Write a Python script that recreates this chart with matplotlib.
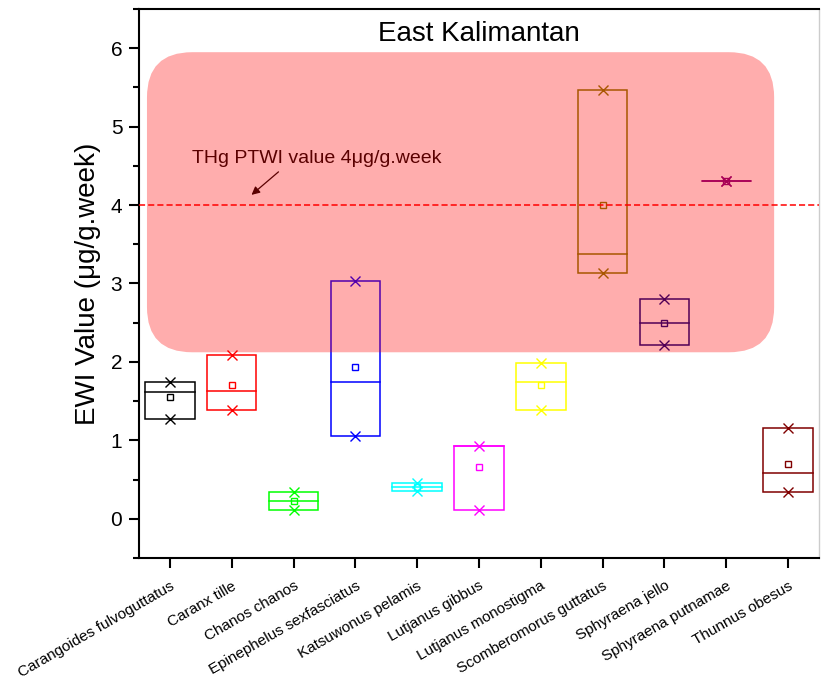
import matplotlib
matplotlib.use('Agg')
import matplotlib.pyplot as plt
from matplotlib.patches import FancyBboxPatch, Rectangle

plt.rcParams['font.family'] = ['Liberation Sans', 'DejaVu Sans']

# Espécies (eixo x)
species = ["Carangoides fulvoguttatus", "Caranx tille", "Chanos chanos",
           "Epinephelus sexfasciatus", "Katsuwonus pelamis", "Lutjanus gibbus",
           "Lutjanus monostigma", "Scomberomorus guttatus", "Sphyraena jello",
           "Sphyraena putnamae", "Thunnus obesus"]

# Valores EWI (µg/g.week)
ewi_min = [1.27, 1.39, 0.11, 1.05, 0.35, 0.11, 1.39, 3.14, 2.21, 4.31, 0.34]
ewi_median = [1.62, 1.63, 0.23, 1.75, 0.41, 0.93, 1.75, 3.38, 2.50, 4.31, 0.58]
ewi_max = [1.75, 2.09, 0.34, 3.03, 0.46, 0.93, 1.98, 5.47, 2.80, 4.31, 1.16]
ewi_mean = [1.55, 1.71, 0.23, 1.94, 0.41, 0.66, 1.70, 4.00, 2.50, 4.31, 0.70]

ptwi = 4.0

# Cores padrão do Origin
colors = ['#000000', '#ff0000', '#00ff00', '#0000ff', '#00ffff', '#ff00ff',
          '#ffff00', '#808000', '#000080', '#800080', '#800000']

fig = plt.figure(figsize=(8.21, 6.80), dpi=100)
ax = fig.add_axes([0.1693, 0.1794, 0.8283, 0.8074])

positions = list(range(1, len(species) + 1))
box_w = 0.8

for x, lo, med, hi, mn, c in zip(positions, ewi_min, ewi_median, ewi_max, ewi_mean, colors):
    ax.add_patch(Rectangle((x - box_w / 2, lo), box_w, hi - lo, fill=False,
                           edgecolor=c, linewidth=1.1, zorder=3))
    ax.plot([x - box_w / 2, x + box_w / 2], [med, med], color=c, lw=1.1, zorder=3)
    ax.plot([x, x], [lo, hi], linestyle='none', marker='x', color=c,
            markersize=7, markeredgewidth=1.0, zorder=4)
    ax.plot([x], [mn], linestyle='none', marker='s', markerfacecolor='none',
            markeredgecolor=c, markersize=5, markeredgewidth=1.0, zorder=4)

# Região de risco (retângulo arredondado semi-transparente)
region = FancyBboxPatch((0.629, 2.123), 10.774 - 0.629, 5.949 - 2.123,
                        boxstyle="round,pad=0,rounding_size=0.73",
                        mutation_aspect=0.788, facecolor='red', alpha=0.32,
                        edgecolor='none', zorder=5)
ax.add_patch(region)

# Linha PTWI
ax.axhline(ptwi, color='#ff0000', linestyle=(0, (4, 2)), linewidth=1.1, zorder=6)
ax.annotate("THg PTWI value 4\u03bcg/g.week", xy=(2.32, 4.13), xytext=(1.35, 4.59),
            fontsize=14, color='#5a0000', va='center', ha='left', zorder=7,
            arrowprops=dict(arrowstyle='-|>', color='#5a0000', lw=0.9,
                            shrinkA=2, shrinkB=0, mutation_scale=12,
                            relpos=(0.37, 0.0)))
ax.text(0.5, 0.955, "East Kalimantan", transform=ax.transAxes, ha='center',
        va='center', fontsize=20, zorder=7)

ax.set_xlim(0.5, 11.5)
ax.set_ylim(-0.5, 6.5)
ax.set_xticks(positions)
ax.set_xticklabels(species, rotation=30, ha='right', rotation_mode='anchor', fontsize=11)
ax.set_yticks(range(0, 7))
ax.set_yticks([v + 0.5 for v in range(-1, 7)], minor=True)
ax.tick_params(axis='y', which='major', labelsize=15, length=7, width=1.5,
               direction='out', pad=5)
ax.tick_params(axis='y', which='minor', length=4, width=1.5, direction='out')
ax.tick_params(axis='x', which='major', length=7, width=1.5, direction='out', pad=8)
ax.set_ylabel("EWI Value (\u03bcg/g.week)", fontsize=20, labelpad=7)

for s in ['left', 'bottom', 'top']:
    ax.spines[s].set_linewidth(1.5)
ax.spines['right'].set_color('#cccccc')
ax.spines['right'].set_linewidth(1.0)

plt.savefig("out.png", dpi=100)
plt.close(fig)
